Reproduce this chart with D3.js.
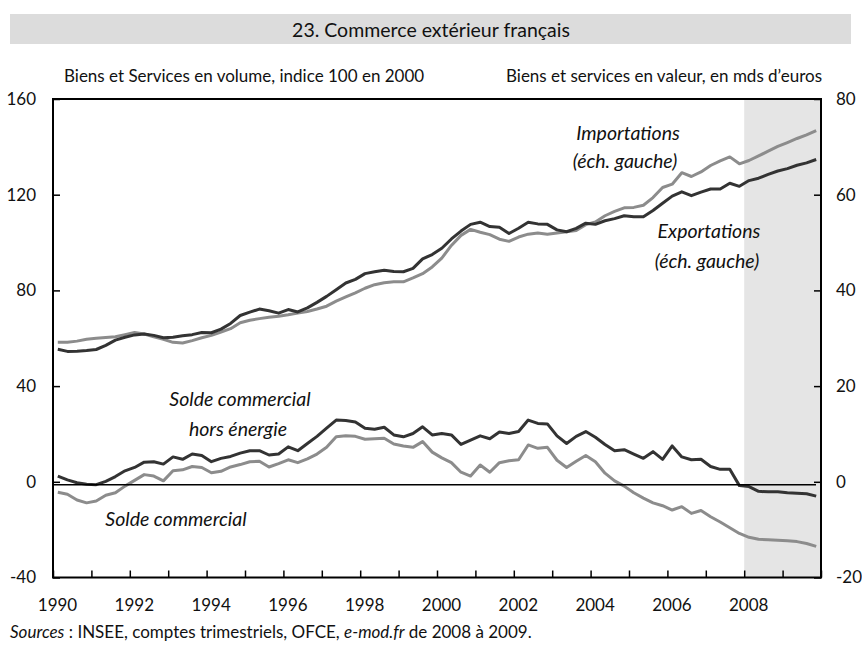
<!DOCTYPE html>
<html>
<head>
<meta charset="utf-8">
<script src="https://cdn.jsdelivr.net/npm/d3@7"></script>
<style>
  html, body { margin: 0; padding: 0; background: #fff; }
  svg { display: block; }
  text { font-family: Lato, "Open Sans", sans-serif; fill: #111; }
</style>
</head>
<body>
<svg id="chart" width="862" height="654"></svg>
<script>
// ---------- DATA ----------
const startYear = 1990;

// Left axis: volume index, 100 in 2000 (quarterly 1990Q1..2009Q4)
const exportations = [
  55.4, 54.5, 54.6, 54.9,  55.3, 57.0, 59.2, 60.4,  61.4, 61.8, 61.2, 60.2,  60.4, 61.0, 61.5, 62.4,
  62.3, 63.8, 66.2, 69.5,  70.9, 72.2, 71.5, 70.5,  72.0, 71.0, 72.7, 75.0,  77.5, 80.3, 83.1, 84.6,
  87.0, 87.8, 88.4, 87.9,  87.8, 89.2, 93.2, 95.0,  97.6, 101.5, 104.8, 107.6,  108.5, 106.7, 106.4, 103.8,
  106.0, 108.5, 107.8, 107.6,  105.3, 104.5, 105.9, 108.1,  107.6, 109.1, 110.0, 111.2,  110.8, 110.8, 113.4, 116.4,
  119.4, 121.2, 119.6, 121.1,  122.4, 122.4, 124.8, 123.5,  125.9, 126.9, 128.5, 129.9,  130.9, 132.3, 133.3, 134.7
];
const importations = [
  58.3, 58.3, 58.8, 59.6,  60.0, 60.3, 60.6, 61.5,  62.4, 61.8, 60.6, 59.6,  58.3, 58.0, 59.0, 60.2,
  61.2, 62.6, 64.0, 66.5,  67.5, 68.2, 68.8, 69.2,  69.8, 70.5, 71.2, 72.2,  73.4, 75.5, 77.3, 79.0,
  80.9, 82.4, 83.2, 83.6,  83.6, 85.2, 87.0, 89.8,  93.5, 98.8, 103.0, 105.5,  104.3, 103.3, 101.4, 100.5,
  102.3, 103.5, 104.0, 103.5,  104.0, 104.5, 105.0, 107.5,  108.6, 111.2, 113.0, 114.5,  114.7, 115.6, 118.8, 123.0,
  124.4, 129.2, 127.6, 129.5,  132.2, 134.1, 135.8, 132.9,  134.3, 136.2, 138.2, 140.2,  141.8, 143.5, 145.0, 146.8
];
// Right axis: value, bn euros
const soldeHorsEnergie = [
  1.2, 0.4, -0.2, -0.5,  -0.6, 0.1, 1.1, 2.3,  3.0, 4.1, 4.2, 3.7,  5.2, 4.7, 5.8, 5.5,
  4.2, 4.9, 5.3, 6.0,  6.5, 6.5, 5.6, 5.8,  7.3, 6.5, 8.0, 9.5,  11.2, 12.9, 12.8, 12.5,
  11.2, 11.0, 11.4, 9.8,  9.4, 10.1, 11.5, 9.8,  10.1, 9.8, 7.8, 8.7,  9.6, 9.0, 10.4, 10.1,
  10.5, 12.9, 12.2, 12.1,  9.6, 8.0, 9.5, 10.5,  9.3, 7.8, 6.5, 6.7,  5.8, 4.9, 6.3, 4.7,
  7.5, 5.2, 4.6, 4.7,  3.2, 2.6, 2.6, -0.8,  -1.0, -2.0, -2.1, -2.1,  -2.3, -2.4, -2.5, -3.0
];
const soldeCommercial = [
  -2.2, -2.6, -3.8, -4.4,  -4.0, -2.8, -2.3, -0.9,  0.3, 1.5, 1.2, 0.2,  2.3, 2.5, 3.2, 3.0,
  1.9, 2.2, 3.1, 3.6,  4.2, 4.3, 3.1, 3.8,  4.6, 4.0, 4.8, 5.8,  7.2, 9.4, 9.6, 9.5,
  8.9, 9.0, 9.1, 7.9,  7.5, 7.2, 8.4, 6.2,  5.0, 4.0, 2.0, 1.2,  3.5, 2.0, 4.0, 4.4,
  4.6, 7.7, 7.0, 7.2,  4.5, 3.0, 4.3, 5.5,  4.2, 1.8, 0.2, -0.9,  -2.3, -3.4, -4.4, -5.0,
  -5.9, -5.2, -6.6, -6.0,  -7.3, -8.4, -9.6, -10.8,  -11.6, -12.0, -12.1, -12.2,  -12.3, -12.5, -12.9, -13.5
];

const leftTicks = [-40, 0, 40, 80, 120, 160];
const rightTicks = [-20, 0, 20, 40, 60, 80];
const yearTicks = d3.range(1990, 2011);
const yearLabels = [1990, 1992, 1994, 1996, 1998, 2000, 2002, 2004, 2006, 2008];
const forecastStart = 2008;

const titleText = "23. Commerce extérieur français";
const leftUnit = "Biens et Services en volume, indice 100 en 2000";
const rightUnit = "Biens et services en valeur, en mds d’euros";
const annotations = [
  ["Importations", 628, 132], ["(éch. gauche)", 625, 160],
  ["Exportations", 709, 230], ["(éch. gauche)", 707, 260],
  ["Solde commercial", 240, 398], ["hors énergie", 238, 428],
  ["Solde commercial", 176, 518]
];

// ---------- LAYOUT ----------
const plot = { left: 53, right: 821, top: 99, bottom: 577.5 };
const colDark = "#333333", colGray = "#8c8c8c";
const fmt = d => String(d); // plain hyphen for negatives, as in the original

const svg = d3.select("#chart");

const x = d3.scaleLinear().domain([1990, 2010]).range([plot.left, plot.right]);
const yL = d3.scaleLinear().domain([-40, 160]).range([plot.bottom, plot.top]);
const yR = d3.scaleLinear().domain([-20, 80]).range([plot.bottom, plot.top]);
const tq = i => startYear + (i + 0.5) / 4;

// Title bar
svg.append("rect").attr("x", 10).attr("y", 14).attr("width", 841).attr("height", 30).attr("fill", "#dcdcdc");
svg.append("text").attr("x", 431).attr("y", 29).attr("text-anchor", "middle")
  .attr("dominant-baseline", "central").style("font-size", "19.5px").text(titleText);

// Unit labels
svg.append("text").attr("x", 64).attr("y", 75).attr("dominant-baseline", "central")
  .style("font-size", "17px").text(leftUnit);
svg.append("text").attr("x", 822).attr("y", 75).attr("dominant-baseline", "central")
  .attr("text-anchor", "end").style("font-size", "17px").text(rightUnit);

// Forecast shading
svg.append("rect")
  .attr("x", x(forecastStart)).attr("y", plot.top)
  .attr("width", x(2010) - x(forecastStart)).attr("height", plot.bottom - plot.top)
  .attr("fill", "#e5e5e5");

// Lines
const lineL = d3.line().x((d, i) => x(tq(i))).y(d => yL(d));
const lineR = d3.line().x((d, i) => x(tq(i))).y(d => yR(d));
const g = svg.append("g").attr("fill", "none").attr("stroke-width", 3).attr("stroke-linejoin", "round");
g.append("path").attr("d", lineR(soldeCommercial)).attr("stroke", colGray);
g.append("path").attr("d", lineR(soldeHorsEnergie)).attr("stroke", colDark);
g.append("path").attr("d", lineL(importations)).attr("stroke", colGray);
g.append("path").attr("d", lineL(exportations)).attr("stroke", colDark);

// Zero line (drawn just under the 0 tick, as in the original)
svg.append("line").attr("x1", plot.left).attr("x2", plot.right - 5)
  .attr("y1", yL(0) + 3).attr("y2", yL(0) + 3).attr("stroke", "#000").attr("stroke-width", 1.5);

// Axes
const axL = svg.append("g").attr("transform", `translate(${plot.left},0)`)
  .call(d3.axisLeft(yL).tickValues(leftTicks).tickFormat(fmt).tickSize(-7).tickSizeOuter(0).tickPadding(17));
const axR = svg.append("g").attr("transform", `translate(${plot.right},0)`)
  .call(d3.axisRight(yR).tickValues(rightTicks).tickFormat(fmt).tickSize(-7).tickSizeOuter(0).tickPadding(15));
const axB = svg.append("g").attr("transform", `translate(0,${plot.bottom})`)
  .call(d3.axisBottom(x).tickValues(yearTicks).tickSize(-7).tickSizeOuter(0).tickPadding(21)
    .tickFormat(d => yearLabels.includes(d) ? String(d) : ""));
[axL, axR, axB].forEach(a => {
  a.select(".domain").remove();
  a.selectAll(".tick line").attr("stroke", "#000").attr("stroke-width", 1.5);
  a.selectAll(".tick text").style("font-family", "Lato, 'Open Sans', sans-serif")
    .style("font-size", "17px").attr("fill", "#111");
});
axB.selectAll(".tick text").attr("dx", 4);

// Frame
svg.append("rect").attr("x", plot.left).attr("y", plot.top)
  .attr("width", plot.right - plot.left).attr("height", plot.bottom - plot.top)
  .attr("fill", "none").attr("stroke", "#000").attr("stroke-width", 2);

// Annotations
svg.append("g").selectAll("text").data(annotations).join("text")
  .attr("x", d => d[1]).attr("y", d => d[2]).attr("text-anchor", "middle")
  .attr("dominant-baseline", "central")
  .style("font-size", "19.5px").style("font-style", "italic").text(d => d[0]);

// Sources
const src = svg.append("text").attr("x", 10).attr("y", 631).attr("dominant-baseline", "central")
  .style("font-size", "17px");
src.append("tspan").style("font-style", "italic").text("Sources");
src.append("tspan").text(" : INSEE, comptes trimestriels, OFCE, ");
src.append("tspan").style("font-style", "italic").text("e-mod.fr");
src.append("tspan").text(" de 2008 à 2009.");
</script>
</body>
</html>
